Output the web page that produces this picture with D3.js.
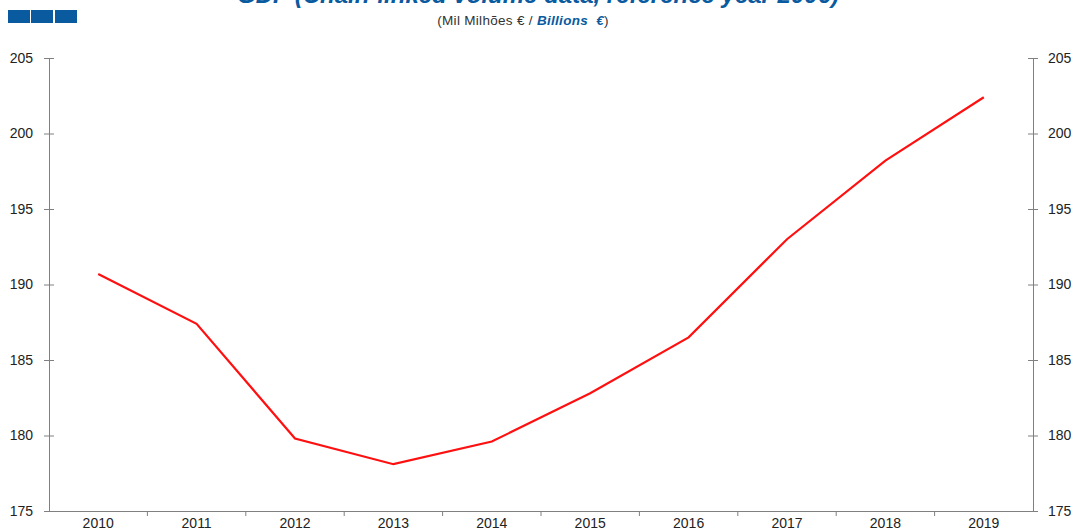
<!DOCTYPE html>
<html>
<head>
<meta charset="utf-8">
<script src="https://cdn.jsdelivr.net/npm/d3@7"></script>
<style>
  body { margin: 0; background: #fff; }
  svg { display: block; font-family: "Liberation Sans", Arial, sans-serif; }
</style>
</head>
<body>
<div id="chart"></div>
<script>
// datos
const years = ["2010", "2011", "2012", "2013", "2014", "2015", "2016", "2017", "2018", "2019"];
const gdp = [190.7, 187.4, 179.8, 178.1, 179.6, 182.8, 186.5, 193.0, 198.2, 202.4];
const yTicks = [175, 180, 185, 190, 195, 200, 205];

const width = 1077;
const height = 531;
const margin = { top: 58, bottom: 20, left: 49, right: 44 };

const svg = d3.select("div#chart").append("svg")
  .attr("width", width)
  .attr("height", height);

// cuadrados azules
svg.selectAll("rect.logo").data([8, 31, 55]).enter().append("rect")
  .attr("class", "logo")
  .attr("x", d => d)
  .attr("y", 10)
  .attr("width", 22)
  .attr("height", 13)
  .attr("fill", "#0a5aa0");

// titulo
svg.append("text")
  .attr("x", 538)
  .attr("y", 3)
  .attr("text-anchor", "middle")
  .attr("font-size", 24)
  .attr("font-weight", "bold")
  .attr("font-style", "italic")
  .attr("fill", "#0a5aa0")
  .text("GDP (Chain-linked volume data, reference year 2006)");

const sub = svg.append("text")
  .attr("x", 523)
  .attr("y", 25)
  .attr("text-anchor", "middle")
  .attr("font-size", 13.5)
  .attr("letter-spacing", 0.3)
  .attr("fill", "#333");
sub.append("tspan").text("(Mil Milhões € / ");
sub.append("tspan").attr("fill", "#0a5aa0").attr("font-weight", "bold").attr("font-style", "italic")
  .attr("xml:space", "preserve").text("Billions  €");
sub.append("tspan").text(")");

// escalas
const x = d3.scaleBand().domain(years).range([margin.left, width - margin.right]);
const y = d3.scaleLinear().domain([175, 205]).range([height - margin.bottom, margin.top]);

const axisColor = "#808080";

function styleAxis(g) {
  g.select(".domain").attr("stroke", axisColor);
  g.selectAll(".tick line").attr("stroke", axisColor);
  g.selectAll(".tick text").attr("fill", "#222").attr("font-size", 14)
    .attr("font-family", "\"Liberation Sans\", Arial, sans-serif");
}

// eje izquierdo
const yLeft = svg.append("g")
  .attr("transform", `translate(${margin.left},0)`)
  .call(d3.axisLeft(y).tickValues(yTicks).tickSize(5).tickSizeOuter(0).tickPadding(11));
yLeft.selectAll(".tick line").attr("x2", 5).attr("x1", -5);
styleAxis(yLeft);

// eje derecho
const yRight = svg.append("g")
  .attr("transform", `translate(${width - margin.right},0)`)
  .call(d3.axisRight(y).tickValues(yTicks).tickSize(5).tickSizeOuter(0).tickPadding(10));
yRight.selectAll(".tick line").attr("x1", -5).attr("x2", 5);
styleAxis(yRight);

// eje x
const xAxisGroup = svg.append("g")
  .attr("transform", `translate(0,${height - margin.bottom})`)
  .call(d3.axisBottom(x).tickSize(0));
styleAxis(xAxisGroup);
xAxisGroup.selectAll(".tick text").attr("dy", "0.32em").attr("y", 13);

// marcas entre categorias
const bounds = years.slice(1).map(d => x(d));
xAxisGroup.selectAll("line.sep").data(bounds).enter().append("line")
  .attr("class", "sep")
  .attr("x1", d => d).attr("x2", d => d)
  .attr("y1", 0).attr("y2", 5)
  .attr("stroke", axisColor);

// linea
const line = d3.line()
  .x((d, i) => x(years[i]) + x.bandwidth() / 2)
  .y(d => y(d));

svg.append("path")
  .datum(gdp)
  .attr("d", line)
  .attr("fill", "none")
  .attr("stroke", "#ff1010")
  .attr("stroke-width", 2.2);
</script>
</body>
</html>
